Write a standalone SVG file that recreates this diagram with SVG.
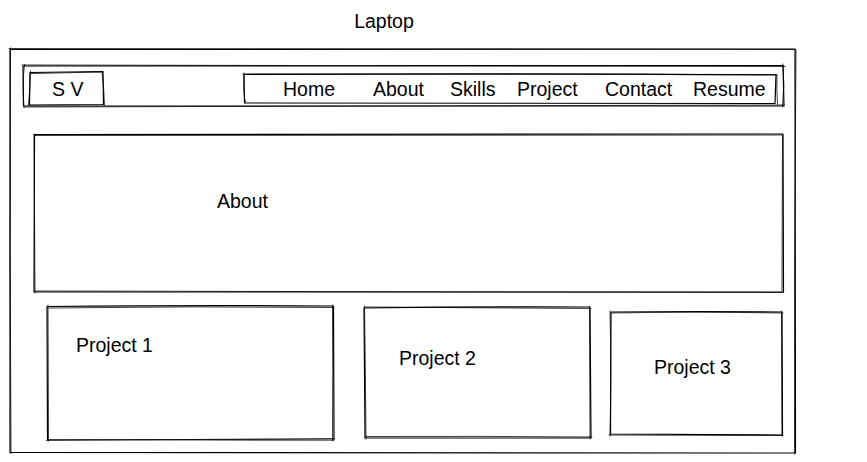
<svg xmlns="http://www.w3.org/2000/svg" width="867" height="462" viewBox="0 0 867 462">
  <style>
    .fill { fill: #ffffff; stroke: none; }
    .sk { fill: none; stroke: #000000; stroke-width: 1.2; stroke-linecap: round; stroke-linejoin: round; }
    .sk2 { fill: none; stroke: #000000; stroke-width: 0.9; stroke-linecap: round; stroke-linejoin: round; opacity: 0.85; }
    .lbl { font-family: "Liberation Sans", Arial, sans-serif; font-size: 19.5px; fill: #000000; }
  </style>
  <rect x="0" y="0" width="867" height="462" fill="#ffffff"/>

  <text class="lbl" x="384" y="28" text-anchor="middle">Laptop</text>

  <!-- laptop screen frame -->
  <g id="frame">
    <rect class="fill" x="10" y="49" width="785" height="404"/>
    <path class="sk" d="M10 49.5 Q300 48 795 49 L795.5 453 Q400 454 10 452.5 Z"/>
    <path class="sk2" d="M9 48.5 L796 49.5 Q794 250 794.5 454 M11 453.5 Q9.5 250 10.5 48"/>
  </g>

  <!-- navigation bar -->
  <g id="navbar">
    <path class="sk" d="M23 66 Q400 64.5 783 65.5 L784 106 Q400 107 23.5 106 Z"/>
    <path class="sk2" d="M22 65 L785 66.5 M783 64 Q785 85 782.5 107 M24 107 L784 105 M24.5 64.5 Q22 85 24 107.5"/>
  </g>

  <g id="logo">
    <path class="sk" d="M30 72.5 L103 71.5 L103.5 104.5 L29.5 105 Z"/>
    <path class="sk2" d="M31 73.5 L102 72 Q104 88 104.5 105 M28.5 105.5 Q30 90 30.5 71"/>
    <text class="lbl" x="52" y="96">S V</text>
  </g>

  <g id="nav-links">
    <path class="sk" d="M244 74.5 Q500 73 776 75 L775 103.5 Q500 102.5 244.5 103 Z"/>
    <path class="sk2" d="M243 74 L777 74.5 Q776.5 89 777.5 104 M245.5 102 Q243 95 244 73"/>
    <text class="lbl" x="283" y="96">Home</text>
    <text class="lbl" x="373" y="96">About</text>
    <text class="lbl" x="450" y="96">Skills</text>
    <text class="lbl" x="517" y="96">Project</text>
    <text class="lbl" x="605" y="96">Contact</text>
    <text class="lbl" x="693" y="96">Resume</text>
  </g>

  <!-- about section -->
  <g id="about">
    <path class="sk" d="M34.5 134.5 Q400 135 783 134 L783.5 292 Q400 291.5 34 292 Z"/>
    <path class="sk2" d="M35 135.5 L782 135 M782.5 135 L782 291 M35 291 L783 292.5 M34 134 L35 293"/>
    <text class="lbl" x="217" y="208">About</text>
  </g>

  <!-- project cards -->
  <g id="project-1">
    <path class="sk" d="M47 306.5 Q200 305 333.5 306 L334 440 Q200 439.5 47.5 439.5 Z"/>
    <path class="sk2" d="M48 308 Q190 306 333 307.5 M332.5 305 Q333 372 332.5 441 M46.5 440.5 L334.5 438.5 M48 305 L48.5 441"/>
    <text class="lbl" x="76" y="352">Project 1</text>
  </g>

  <g id="project-2">
    <path class="sk" d="M364 308 Q480 306.5 590 307 L591 438 Q480 437.5 365 438 Z"/>
    <path class="sk2" d="M365 307 L591 308.5 M589.5 306.5 L590 439 M366 436.5 Q480 436 592 437 M364.5 306 Q365.5 372 366 439"/>
    <text class="lbl" x="399" y="365">Project 2</text>
  </g>

  <g id="project-3">
    <path class="sk" d="M611 312 Q700 311 782 312 L782.5 435 Q700 434.5 610.5 434 Z"/>
    <path class="sk2" d="M611.5 313 Q690 311.5 783 313 M781.5 311 L782 436 M609 435 L783 435.5 M610 311 Q611.5 370 610 436"/>
    <text class="lbl" x="654" y="374">Project 3</text>
  </g>
</svg>
